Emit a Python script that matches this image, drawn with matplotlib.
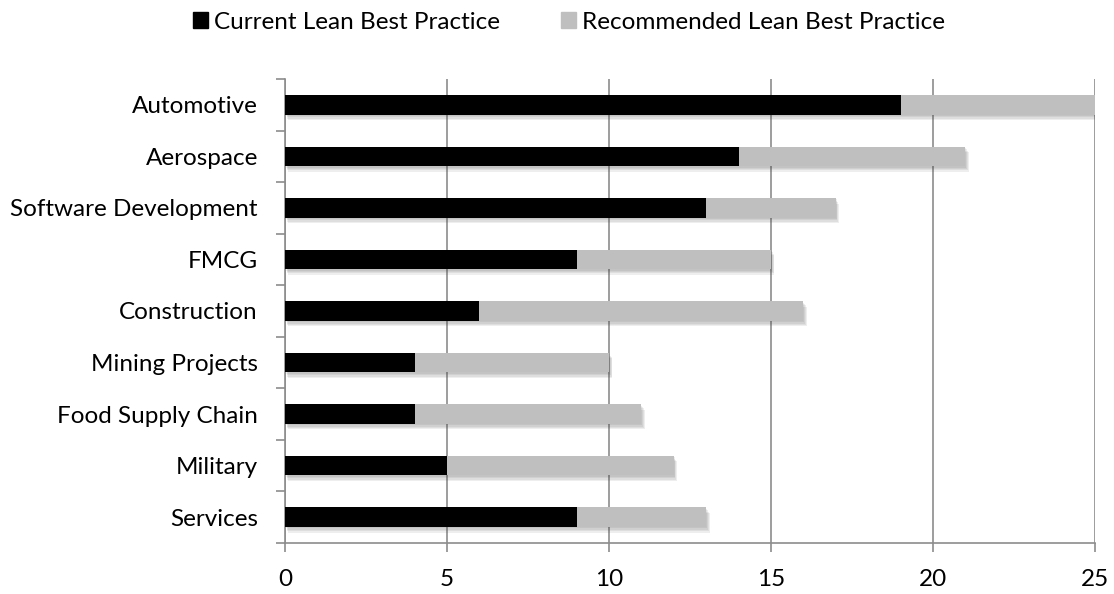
import matplotlib
matplotlib.use("Agg")
import matplotlib.pyplot as plt
import matplotlib.patheffects as pe
from matplotlib.patches import Patch
import numpy as np

categories = ["Automotive", "Aerospace", "Software Development", "FMCG", "Construction",
              "Mining Projects", "Food Supply Chain", "Military", "Services"]
current = [19, 14, 13, 9, 6, 4, 4, 5, 9]
recommended = [6, 7, 4, 6, 10, 6, 7, 7, 4]

plt.rcParams['font.family'] = ['Lato', 'DejaVu Sans']

fig = plt.figure(figsize=(11.14, 5.94), dpi=100)
ax = fig.add_axes([0.2558, 0.0859, 0.7272, 0.7811])

y = np.arange(len(categories))
# soft drop shadow made of a few faint offset copies
shadow = [pe.SimplePatchShadow(offset=(o * 0.6, -o), shadow_rgbFace='#444444', alpha=0.09)
          for o in (1, 2, 3, 4)] + [pe.Normal()]
b1 = ax.barh(y, current, height=0.38, color='black', zorder=3)
b2 = ax.barh(y, recommended, left=current, height=0.38, color='#bfbfbf', zorder=3)
for bar in list(b1) + list(b2):
    bar.set_path_effects(shadow)

ax.set_xlim(0, 25)
ax.set_ylim(len(categories) - 0.5, -0.5)
ax.set_xticks(range(0, 26, 5))
ax.set_yticks(y)
ax.set_yticklabels(categories)
ax.set_yticks(np.arange(-0.5, len(categories), 1), minor=True)
ax.tick_params(axis='y', which='major', length=0, pad=19.5, labelsize=17.5)
ax.tick_params(axis='y', which='minor', length=6.5, color='#8c8c8c', width=1.2)
ax.tick_params(axis='x', length=6.5, color='#8c8c8c', width=1.2, pad=12, labelsize=17.5)

ax.grid(axis='x', color='#8c8c8c', linewidth=1.2, zorder=0)
for s in ['top', 'right']:
    ax.spines[s].set_visible(False)
for s in ['left', 'bottom']:
    ax.spines[s].set_color('#8c8c8c')
    ax.spines[s].set_linewidth(1.2)

handles = [Patch(color='black', label='Current Lean Best Practice'),
           Patch(color='#bfbfbf', label='Recommended Lean Best Practice')]
fig.legend(handles=handles, loc='upper center', bbox_to_anchor=(0.511, 1.017), ncol=2,
           frameon=False, fontsize=17.5, handlelength=0.62, handleheight=0.62,
           handletextpad=0.25, columnspacing=2.5)

fig.savefig('out.png', dpi=100)
